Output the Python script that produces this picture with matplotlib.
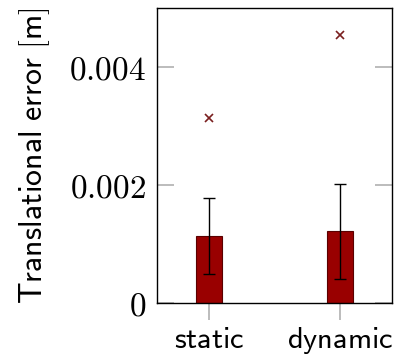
import numpy as np
import matplotlib.pyplot as plt

plt.rcParams['mathtext.fontset'] = 'cm'

labels = ['static', 'dynamic']
means = [0.00114, 0.00122]
err_low = [0.00049, 0.00041]
err_high = [0.001775, 0.00202]
outliers = [0.00313, 0.00455]

x = np.arange(len(labels))
means = np.array(means)
yerr = [means - np.array(err_low), np.array(err_high) - means]

fig = plt.figure(figsize=(3.96, 3.55), dpi=100)
ax = fig.add_axes([157 / 396, 52 / 355, 235 / 396, 295 / 355])

ax.bar(x, means, width=0.2, color='#990000', edgecolor='#5a0000', linewidth=0.8, zorder=2)
ax.errorbar(x, means, yerr=yerr, fmt='none', ecolor='black', elinewidth=1.0,
            capsize=4, capthick=1.0, zorder=3)
ax.plot(x, outliers, 'x', color='#7a1f1f', markersize=6, markeredgewidth=1.2, zorder=3)

ax.set_xlim(-0.4, 1.4)
ax.set_ylim(0, 0.005)
ax.set_yticks([0, 0.002, 0.004])
ax.set_yticklabels(['$0$', '$0.002$', '$0.004$'], fontsize=24)
ax.set_xticks(x)
ax.set_xticklabels([r'$\mathsf{%s}$' % l for l in labels], fontsize=22)
ax.set_ylabel(r'$\mathsf{Translational\ error\ [m]}$', fontsize=23, labelpad=12)

ax.tick_params(axis='y', direction='in', length=12, color='#b0b0b0', width=1.2,
               right=True, pad=8)
ax.tick_params(axis='x', direction='out', length=12, color='#b0b0b0', width=1.2, pad=4)
for s in ax.spines.values():
    s.set_linewidth(1.0)

fig.savefig('out.png', dpi=100)
